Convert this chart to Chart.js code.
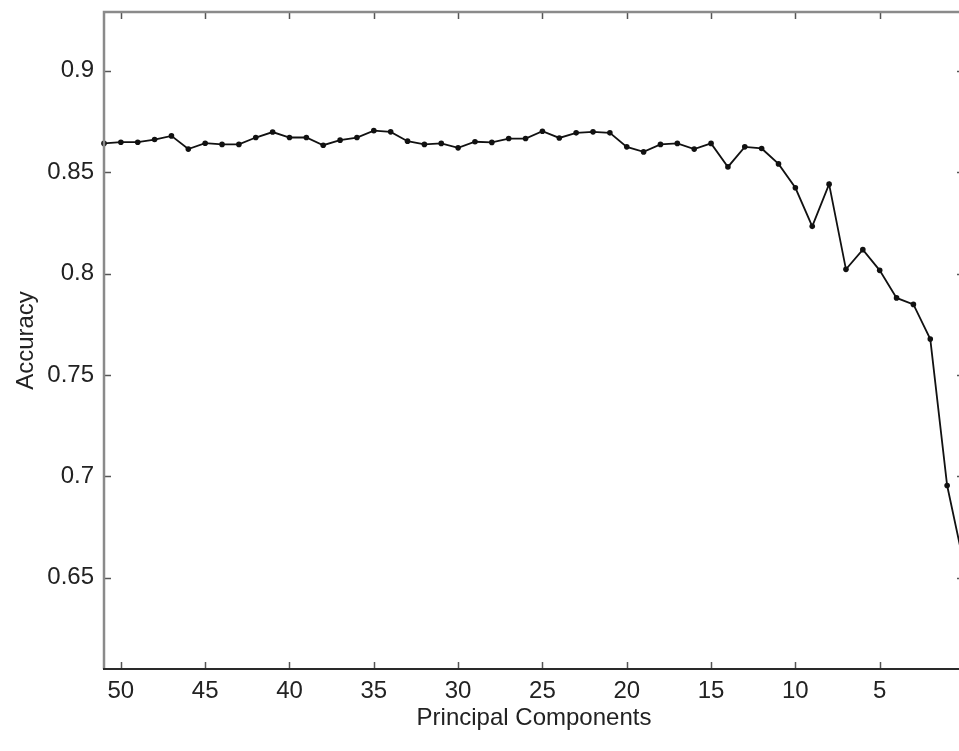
<!DOCTYPE html>
<html>
<head>
<meta charset="utf-8">
<script src="https://cdn.jsdelivr.net/npm/chart.js@4/dist/chart.umd.min.js"></script>
<style>
  html, body { margin: 0; padding: 0; background: #fff; overflow: hidden; width: 959px; height: 751px; }
  #wrap { position: absolute; left: 0; top: 0; width: 968px; height: 751px; }
</style>
</head>
<body>
<div id="wrap"><canvas id="c" width="968" height="751"></canvas></div>
<script>
// Number of principal components (x) and accuracy (y)
const components = [51,50,49,48,47,46,45,44,43,42,41,40,39,38,37,36,35,34,33,32,31,30,29,28,27,26,25,24,23,22,21,20,19,18,17,16,15,14,13,12,11,10,9,8,7,6,5,4,3,2,1,0];
const accuracy = [0.8642,0.8648,0.8648,0.8661,0.8679,0.8614,0.8643,0.8637,0.8637,0.8671,0.8698,0.8671,0.8671,0.8633,0.8658,0.8671,0.8705,0.8699,0.8653,0.8637,0.8642,0.8620,0.8650,0.8647,0.8666,0.8666,0.8702,0.8669,0.8694,0.8699,0.8694,0.8625,0.8600,0.8637,0.8642,0.8614,0.8642,0.8526,0.8625,0.8617,0.8541,0.8423,0.8233,0.8441,0.8021,0.8118,0.8016,0.7880,0.7848,0.7677,0.6955,0.6565];
const xTickValues = [50,45,40,35,30,25,20,15,10,5];
const yTickValues = [0.65,0.7,0.75,0.8,0.85,0.9];
const xTitle = 'Principal Components';
const yTitle = 'Accuracy';

const FONT = "'Liberation Sans', Arial, Helvetica, sans-serif";

const framePlugin = {
  id: 'frame',
  afterDraw(chart) {
    const {ctx, chartArea: a, scales: {x, y}} = chart;
    ctx.save();
    const tl = 7;
    ctx.lineWidth = 1.5;
    ctx.strokeStyle = '#555';
    x.ticks.forEach(t => {
      const px = Math.round(x.getPixelForValue(t.value)) + 0.5;
      ctx.beginPath(); ctx.moveTo(px, a.bottom); ctx.lineTo(px, a.bottom - tl); ctx.stroke();
      ctx.beginPath(); ctx.moveTo(px, a.top); ctx.lineTo(px, a.top + tl); ctx.stroke();
    });
    y.ticks.forEach(t => {
      const py = Math.round(y.getPixelForValue(t.value)) + 0.5;
      ctx.beginPath(); ctx.moveTo(a.left, py); ctx.lineTo(a.left + tl, py); ctx.stroke();
      ctx.beginPath(); ctx.moveTo(a.right, py); ctx.lineTo(a.right - tl, py); ctx.stroke();
    });
    ctx.lineWidth = 2.5;
    ctx.strokeStyle = '#8a8a8a';
    ctx.beginPath(); ctx.moveTo(a.left, a.bottom); ctx.lineTo(a.left, a.top); ctx.lineTo(a.right, a.top); ctx.stroke();
    ctx.beginPath(); ctx.moveTo(a.right, a.top); ctx.lineTo(a.right, a.bottom); ctx.stroke();
    ctx.lineWidth = 2;
    ctx.strokeStyle = '#2a2a2a';
    ctx.beginPath(); ctx.moveTo(a.left - 1, a.bottom); ctx.lineTo(a.right, a.bottom); ctx.stroke();
    ctx.restore();
  }
};

new Chart(document.getElementById('c'), {
  type: 'line',
  data: {
    datasets: [{
      data: components.map((c, i) => ({x: c, y: accuracy[i]})),
      borderColor: '#111',
      backgroundColor: '#111',
      borderWidth: 1.8,
      pointRadius: 2.8,
      pointBorderWidth: 0,
      pointBackgroundColor: '#111',
      tension: 0,
      clip: false
    }]
  },
  options: {
    responsive: false,
    animation: false,
    devicePixelRatio: 1,
    layout: { padding: { top: 12, right: 4, left: 0, bottom: 0 } },
    plugins: { legend: { display: false }, tooltip: { enabled: false } },
    scales: {
      x: {
        type: 'linear',
        reverse: true,
        min: 0,
        max: 51,
        afterBuildTicks: s => { s.ticks = xTickValues.map(v => ({value: v})); },
        afterFit: s => { s.height = 82; s.paddingLeft = 0; s.paddingRight = 0; },
        grid: { display: false, drawTicks: false },
        border: { display: false },
        ticks: {
          color: '#222',
          font: { family: FONT, size: 24 },
          padding: 8,
          maxRotation: 0,
          autoSkip: false,
          callback: v => String(v)
        },
        title: {
          display: true,
          text: xTitle,
          color: '#222',
          font: { family: FONT, size: 24 },
          padding: { top: 0, bottom: 18 }
        }
      },
      y: {
        type: 'linear',
        min: 0.605,
        max: 0.929,
        afterBuildTicks: s => { s.ticks = yTickValues.map(v => ({value: v})); },
        afterFit: s => { s.width = 104; s.paddingTop = 0; s.paddingBottom = 0; },
        grid: { display: false, drawTicks: false },
        border: { display: false },
        ticks: {
          color: '#222',
          font: { family: FONT, size: 24 },
          padding: 10,
          autoSkip: false,
          callback: v => String(+Number(v).toFixed(2))
        },
        title: {
          display: true,
          text: yTitle,
          color: '#222',
          font: { family: FONT, size: 24 },
          padding: { top: 12, bottom: 0 }
        }
      }
    }
  },
  plugins: [framePlugin]
});
</script>
</body>
</html>
